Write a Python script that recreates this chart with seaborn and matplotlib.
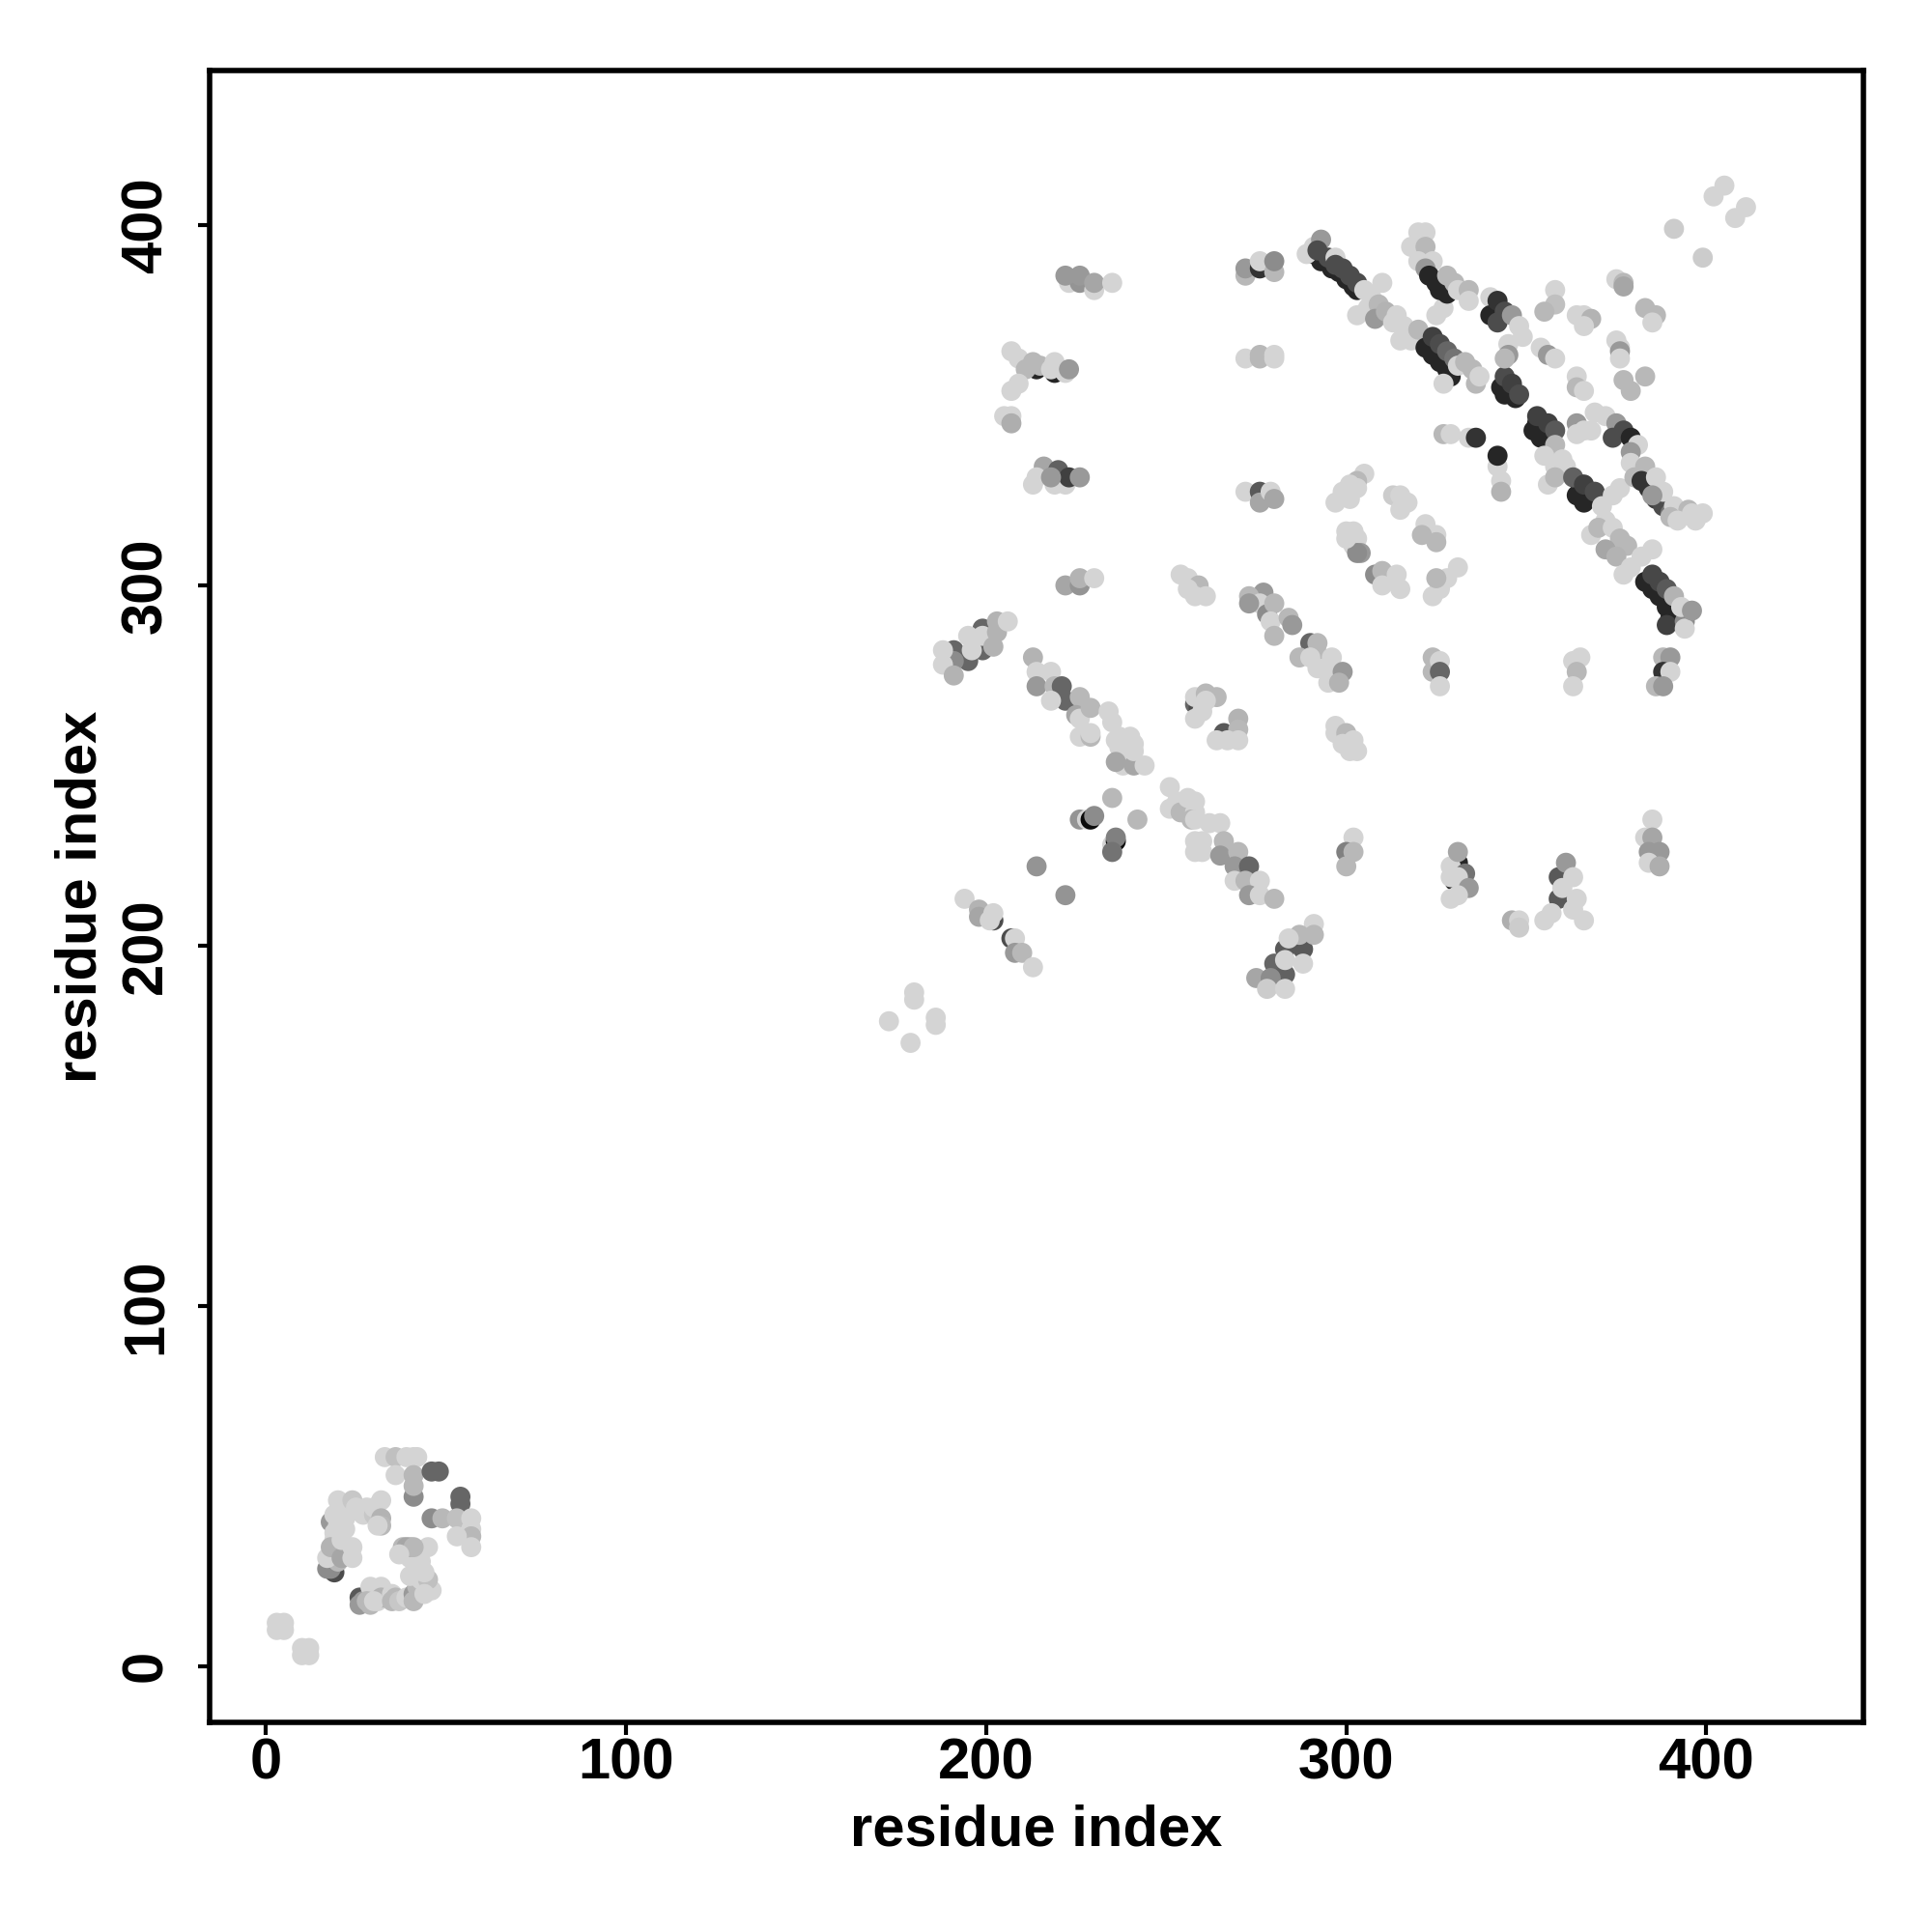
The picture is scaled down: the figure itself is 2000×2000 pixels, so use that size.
import matplotlib
matplotlib.use('Agg')
import matplotlib.pyplot as plt
import seaborn as sns
import pandas as pd

# contact map, one line per cluster, drawn in this order
residue_i = [
    3, 5, 3, 5, 10, 12, 10, 12,
    33, 36, 39, 41, 42, 36, 41, 46, 48, 41, 41, 54, 54, 46, 49, 53, 57, 57, 57, 57, 53,
    19, 17, 18, 18, 20, 17, 19, 20, 21, 20, 19, 19, 19, 18, 21, 21, 22, 22, 23, 26, 20, 24, 28, 25, 27, 30, 30, 32, 32, 32, 31, 24, 24,
    26, 26, 27, 29, 31, 33, 29, 32, 32, 28, 30, 35, 35, 36, 37, 39, 41, 41, 42, 43, 46, 45, 44, 40, 44, 42, 43, 40, 45, 43, 40, 38, 39, 41, 37,
    272, 272, 276, 276, 280, 280,
    272, 276, 276, 280, 280,
    272, 276, 276, 279, 280,
    291, 293, 296, 298, 300, 302, 303, 289, 291, 293, 292, 295, 297, 297, 299, 301, 303,
    303, 306, 305, 307, 310, 309, 308, 311, 314, 313, 316, 318, 315, 318, 320,
    322, 324, 326, 328, 329, 324, 326, 328, 330, 331, 333, 335, 336, 337, 327, 327, 325,
    343, 344, 345, 347, 344, 346, 348,
    352, 354, 353, 355, 353, 356, 358, 358, 355, 360, 358, 361, 356, 358,
    364, 366, 365, 367, 363, 366, 369, 376, 374, 371, 372, 368, 370, 374, 376, 372, 378, 375, 385, 382, 377, 379,
    383, 385, 387, 389, 390, 389, 385, 387, 389, 391, 394, 394, 393, 396,
    320, 322, 318, 322, 320, 324, 322, 323, 325, 326, 328, 328, 330, 331, 334, 334, 340, 340, 342, 342, 344, 346, 348, 349, 345, 345, 344,
    369, 372, 375, 374, 377, 379, 381, 379, 379, 383, 380, 382, 384, 386, 388, 390, 386, 388, 385, 391, 390, 395, 392, 396, 397, 399,
    402, 405, 411, 408, 391, 399,
    358, 358, 355, 366, 364, 368, 366,
    375, 377, 377, 383, 386, 385, 376, 375, 376, 376,
    354, 356, 358, 364, 364, 366, 377, 383, 379,
    327, 329, 334, 336, 342, 342, 343, 343, 364, 366, 368, 364,
    305, 303, 301, 299, 297, 301, 303, 313, 315, 317, 315,
    322, 325, 321, 325, 300, 302, 303, 302, 304, 303, 300,
    308, 310, 314, 310, 315, 331, 328, 326, 324, 326, 325,
    277, 273, 276, 273, 278, 280, 279, 284, 285, 280, 290, 287, 292, 292, 290, 292, 296, 294, 295, 299, 298,
    324, 324, 326, 326, 326, 363, 365, 364, 363, 388, 390, 388, 390, 386, 388,
    297, 297, 300, 302, 299, 303, 301,
    258, 259, 258, 261, 264, 258, 261, 260, 266, 269, 270, 270, 264, 267, 270,
    213, 214, 218, 214, 219, 221, 222, 218, 226, 225, 226, 229, 234, 235, 226, 229, 229, 236, 240, 241, 237, 239, 240, 238, 241, 244, 237, 238, 241, 236,
    251, 251, 253, 254, 256, 258, 258, 257, 258, 262, 265, 258, 260, 258, 260, 266, 265, 270, 269, 273, 269, 272, 276, 273, 276, 280,
    235, 226, 228, 229, 230, 242, 235, 236, 236, 235, 214, 222,
    194, 198, 198, 202, 201, 202, 207, 208, 208, 210, 213,
    180, 180, 173, 186, 186, 179,
    283, 288, 280, 283, 291, 291, 287, 284, 283, 288, 275, 279, 278, 283,
    302, 300, 302, 300,
    331, 329, 331, 333, 330, 329, 331, 334, 331, 329,
    359, 359, 361, 363, 360, 364, 363, 366, 357, 355,
    346, 348, 348, 385, 383, 385, 384, 387, 384, 387,
    223, 226, 222, 226, 230, 230, 235,
    207, 209, 214, 219, 211, 213, 215, 218, 219, 222, 223,
    209, 207, 205, 207, 207,
    216, 220, 214, 213, 219, 222, 223, 226, 218,
    222, 226, 226, 230,
    254, 256, 259, 256, 261, 258,
    199, 199, 191, 195, 191, 188, 188, 191, 195, 199, 196, 203, 203, 202, 206,
]

residue_j = [
    10, 10, 12, 12, 3, 3, 5, 5,
    58, 58, 58, 58, 58, 53, 53, 54, 54, 47, 50, 47, 45, 41, 41, 41, 41, 38, 36, 33, 36,
    26, 27, 27, 40, 29, 30, 33, 33, 40, 39, 37, 42, 35, 33, 30, 35, 38, 41, 43, 43, 46, 46, 44, 44, 42, 42, 44, 46, 41, 39, 39, 33, 30,
    19, 17, 18, 17, 18, 19, 22, 22, 19, 18, 18, 20, 18, 19, 18, 19, 20, 18, 22, 24, 21, 24, 20, 25, 26, 27, 29, 30, 33, 32, 33, 33, 33, 33, 31,
    386, 388, 388, 390, 387, 390,
    363, 364, 363, 364, 363,
    326, 326, 323, 326, 324,
    392, 390, 388, 387, 385, 383, 382, 392, 394, 396, 393, 391, 391, 389, 388, 386, 384,
    375, 377, 382, 380, 384, 378, 374, 376, 375, 373, 372, 370, 368, 368, 371,
    366, 364, 362, 360, 358, 369, 367, 365, 363, 361, 362, 360, 356, 358, 356, 377, 375,
    355, 353, 356, 352, 358, 356, 353,
    343, 341, 345, 343, 347, 345, 343, 339, 336, 335, 333, 333, 328, 330,
    325, 323, 328, 326, 330, 328, 326, 327, 325, 322, 318, 314, 316, 316, 313, 310, 311, 308, 310, 308, 303, 305,
    301, 299, 297, 294, 291, 289, 303, 301, 299, 297, 290, 288, 294, 293,
    398, 398, 394, 394, 390, 390, 388, 386, 384, 382, 381, 386, 384, 382, 382, 379, 380, 375, 373, 379, 376, 375, 372, 369, 367, 364, 363,
    348, 347, 345, 341, 343, 341, 339, 337, 334, 333, 330, 329, 327, 324, 322, 320, 330, 326, 325, 322, 319, 321, 318, 320, 318, 320,
    408, 411, 405, 402, 399, 391,
    382, 378, 376, 375, 375, 374, 372,
    385, 384, 383, 377, 375, 373, 366, 368, 365, 363,
    366, 364, 363, 358, 355, 354, 357, 358, 354,
    342, 342, 341, 341, 333, 336, 329, 326, 345, 343, 343, 342,
    331, 329, 328, 326, 323, 324, 327, 325, 325, 323, 321,
    317, 314, 314, 312, 315, 315, 313, 311, 309, 309, 313,
    303, 304, 303, 300, 299, 305, 302, 300, 297, 299, 302,
    298, 297, 295, 295, 292, 295, 290, 291, 289, 286, 284, 280, 284, 281, 280, 277, 280, 277, 273, 276, 273,
    280, 276, 279, 276, 272, 279, 280, 276, 272, 280, 280, 276, 276, 272, 272,
    261, 259, 259, 257, 256, 254, 254,
    267, 266, 269, 270, 269, 263, 268, 265, 259, 258, 263, 260, 257, 257, 257,
    280, 276, 276, 272, 272, 272, 268, 268, 269, 264, 263, 266, 265, 262, 258, 258, 259, 257, 258, 256, 255, 253, 252, 250, 250, 250, 258, 255, 254, 251,
    244, 238, 240, 237, 241, 240, 237, 235, 235, 234, 234, 229, 229, 226, 226, 229, 225, 226, 222, 222, 218, 218, 218, 214, 214, 213,
    241, 235, 235, 235, 236, 235, 228, 229, 230, 226, 222, 214,
    213, 210, 208, 207, 207, 209, 202, 202, 198, 198, 194,
    187, 185, 179, 180, 178, 173,
    199, 199, 195, 192, 206, 203, 203, 202, 196, 195, 191, 191, 188, 188,
    230, 226, 226, 222,
    223, 222, 226, 220, 218, 219, 219, 216, 214, 213,
    219, 213, 223, 219, 216, 213, 210, 207, 209, 207,
    207, 207, 205, 235, 230, 230, 226, 226, 223, 222,
    384, 384, 386, 386, 382, 384, 384,
    365, 363, 360, 359, 360, 362, 361, 360, 362, 359, 360,
    356, 354, 347, 347, 345,
    333, 332, 330, 328, 328, 328, 330, 330, 330,
    300, 300, 302, 302,
    303, 302, 300, 299, 297, 297,
    288, 282, 282, 279, 279, 282, 278, 275, 286, 286, 282, 290, 287, 283, 290,
]

# darkness of each point, percent of white
shade = [
    83, 83, 83, 83, 83, 83, 83, 83,
    83, 75, 83, 83, 83, 83, 72, 40, 40, 55, 72, 40, 40, 55, 72, 75, 83, 83, 72, 83, 83,
    30, 55, 55, 60, 72, 83, 72, 83, 83, 83, 83, 83, 83, 70, 65, 83, 83, 83, 83, 83, 83, 78, 83, 83, 83, 78, 83, 83, 70, 72, 83, 83, 83,
    35, 60, 60, 72, 83, 78, 83, 83, 70, 72, 83, 83, 72, 72, 78, 83, 60, 72, 72, 83, 83, 75, 83, 83, 83, 83, 83, 83, 83, 83, 72, 72, 65, 72, 83,
    72, 60, 20, 83, 72, 55,
    83, 72, 72, 83, 83,
    83, 35, 65, 83, 65,
    15, 15, 15, 15, 15, 15, 15, 83, 83, 60, 30, 30, 83, 30, 30, 30, 30,
    83, 83, 83, 83, 83, 72, 60, 70, 83, 83, 83, 83, 83, 83, 72,
    15, 15, 15, 15, 15, 25, 30, 40, 45, 83, 72, 72, 72, 83, 83, 83, 83,
    15, 15, 15, 15, 30, 25, 30,
    15, 15, 15, 15, 25, 25, 35, 72, 83, 83, 83, 83, 83, 72,
    15, 15, 15, 15, 38, 25, 30, 83, 83, 83, 83, 83, 72, 83, 72, 65, 72, 70, 83, 83, 83, 83,
    15, 15, 15, 15, 15, 25, 28, 28, 35, 70, 55, 83, 83, 60,
    83, 83, 83, 72, 83, 83, 60, 15, 15, 15, 15, 72, 72, 83, 72, 83, 83, 15, 30, 20, 30, 60, 83, 83, 83, 60, 72,
    83, 83, 60, 30, 30, 15, 83, 60, 83, 72, 72, 20, 20, 25, 30, 45, 83, 83, 60, 83, 72, 72, 83, 83, 83, 83,
    83, 83, 83, 83, 80, 80,
    83, 75, 72, 83, 83, 70, 83,
    83, 72, 65, 72, 72, 83, 83, 83, 60, 83,
    83, 60, 83, 83, 72, 83, 72, 72, 72,
    72, 83, 83, 20, 83, 15, 83, 70, 60, 83, 83, 83,
    83, 72, 83, 83, 83, 83, 83, 80, 83, 83, 83,
    83, 83, 72, 72, 83, 83, 83, 83, 60, 55, 83,
    55, 72, 83, 83, 83, 83, 83, 83, 83, 83, 72,
    60, 72, 83, 60, 55, 72, 83, 72, 60, 72, 40, 72, 72, 72, 83, 83, 83, 83, 83, 60, 70,
    72, 72, 83, 40, 83, 83, 83, 72, 83, 72, 60, 20, 83, 72, 60,
    83, 83, 72, 83, 83, 83, 83,
    40, 30, 83, 72, 72, 83, 83, 83, 35, 35, 70, 72, 83, 83, 83,
    70, 83, 83, 60, 72, 40, 40, 83, 72, 65, 83, 72, 83, 83, 83, 72, 83, 83, 83, 83, 83, 83, 83, 83, 65, 83, 83, 83, 83, 65,
    83, 83, 83, 72, 83, 83, 83, 72, 83, 83, 83, 83, 83, 83, 83, 72, 60, 72, 60, 40, 83, 72, 83, 60, 83, 72,
    72, 58, 83, 5, 55, 72, 83, 5, 50, 45, 58, 58,
    83, 70, 65, 30, 83, 83, 30, 83, 60, 72, 83,
    83, 83, 83, 83, 83, 83,
    35, 35, 40, 38, 83, 72, 72, 83, 83, 83, 65, 55, 80, 83,
    83, 50, 72, 72,
    15, 83, 65, 45, 15, 83, 83, 60, 83, 83,
    35, 35, 60, 83, 83, 83, 83, 83, 83, 83,
    68, 83, 80, 83, 83, 65, 60, 60, 83, 68,
    83, 58, 60, 60, 83, 65, 83,
    83, 83, 15, 15, 72, 72, 72, 83, 83, 83, 60,
    83, 83, 83, 83, 68,
    65, 38, 83, 83, 83, 83, 25, 60, 60,
    65, 58, 70, 83,
    83, 83, 72, 83, 83, 83,
    40, 40, 40, 40, 55, 83, 83, 70, 83, 83, 83, 70, 70, 70, 83,
]

tick_values = [0, 100, 200, 300, 400]

assert len(residue_i) == len(residue_j) == len(shade), (len(residue_i), len(residue_j), len(shade))

contacts = pd.DataFrame({'i': residue_i, 'j': residue_j, 'shade': shade})

sns.set_style('white')
plt.rcParams['font.family'] = ['Liberation Sans', 'DejaVu Sans']
plt.rcParams['text.color'] = 'black'
plt.rcParams['axes.labelcolor'] = 'black'
plt.rcParams['xtick.color'] = 'black'
plt.rcParams['ytick.color'] = 'black'

fig = plt.figure(figsize=(10, 10), dpi=200)
ax = fig.add_axes([0.1084, 0.1084, 0.8559, 0.8552])

sns.scatterplot(data=contacts, x='i', y='j', hue='shade', palette='gray', hue_norm=(0, 100),
                s=56, linewidth=0, legend=False, ax=ax)

ax.set_xlim(-15.7, 443.5)
ax.set_ylim(-15.7, 443.0)
ax.set_xticks(tick_values)
ax.set_yticks(tick_values)
ax.tick_params(length=4.5, width=1.5, color='black', bottom=True, left=True)
ax.tick_params(axis='x', pad=1)
ax.tick_params(axis='y', pad=9)
for lab in ax.get_xticklabels():
    lab.set_fontsize(21.5)
    lab.set_fontweight('bold')
for lab in ax.get_yticklabels():
    lab.set_fontsize(21.5)
    lab.set_fontweight('bold')
    lab.set_rotation(90)
    lab.set_va('center')
ax.set_xlabel('residue index', fontsize=21.5, fontweight='bold', labelpad=5)
ax.set_ylabel('residue index', fontsize=21.5, fontweight='bold', labelpad=4.5)
for side in ax.spines.values():
    side.set_linewidth(2.0)
    side.set_color('black')

fig.savefig('out.png', dpi=200, facecolor='white')
